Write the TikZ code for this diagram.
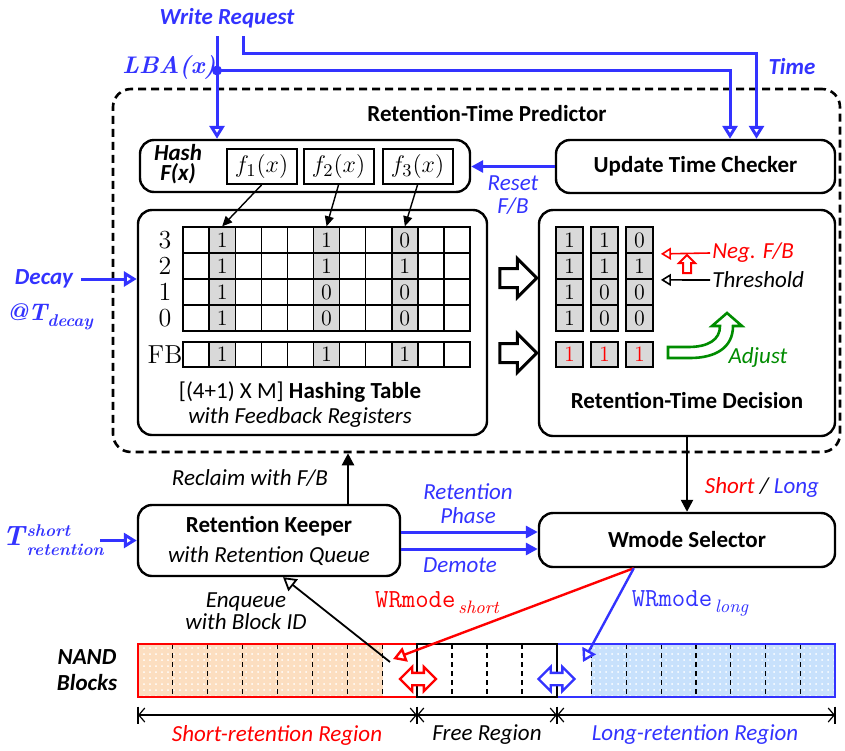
\documentclass[tikz,border=0pt]{standalone}
\usepackage{fontspec}
\setsansfont{Carlito}
\usepackage{amsmath}
\usepackage{tikz}
\usetikzlibrary{arrows.meta, shapes.arrows, patterns, positioning}
\definecolor{wrblue}{RGB}{51,51,255}
\definecolor{wrred}{RGB}{255,0,0}
\definecolor{wrgreen}{RGB}{0,140,0}
\definecolor{wrgray}{RGB}{217,217,217}
\definecolor{wrpeach}{RGB}{252,222,192}
\definecolor{wrsky}{RGB}{200,225,252}
\newcommand{\figfont}{\fontsize{11.5}{13}\selectfont}
\newcommand{\serifbi}{\rmfamily\bfseries\itshape}
\tikzset{
  %% ---- boxes ----
  box/.style    = {rectangle, rounded corners=7pt, draw=black, line width=1.2pt,
                   fill=white, align=center, inner sep=0pt,
                   font=\sffamily\bfseries\figfont},
  predictor/.style = {rectangle, rounded corners=9pt, draw=black, line width=1.3pt,
                   dash pattern=on 4pt off 2.5pt, inner sep=0pt},
  fbox/.style   = {rectangle, draw=black, line width=1pt, inner sep=0pt,
                   minimum width=35pt, minimum height=17.5pt,
                   font=\fontsize{12.5}{13}\selectfont},
  cell/.style   = {rectangle, draw=black, line width=0.7pt, inner sep=0pt,
                   minimum width=13.05pt, minimum height=13pt,
                   font=\rmfamily\fontsize{11}{11}\selectfont},
  dcell/.style  = {cell, fill=wrgray, line width=0.9pt, minimum width=13.5pt},
  rowlbl/.style = {inner sep=0pt, font=\rmfamily\fontsize{13}{13}\selectfont},
  %% ---- labels ----
  lbl/.style    = {align=center, inner sep=1pt, font=\sffamily\itshape\figfont},
  bluelbl/.style= {lbl, text=wrblue},
  boldlbl/.style= {align=center, inner sep=1pt, font=\sffamily\bfseries\itshape\figfont},
  mathlbl/.style= {inner sep=1pt, text=wrblue, font=\serifbi\fontsize{12}{12}\selectfont},
  title/.style  = {align=center, inner sep=1pt, font=\sffamily\bfseries\figfont},
  monolbl/.style= {inner sep=1pt, font=\ttfamily\fontsize{13}{13}\selectfont},
  %% ---- arrows ----
  openarrow/.style  = {-{Triangle[open, length=6.5pt, width=7.5pt]},
                       line width=1.5pt, draw=wrblue},
  solidarrow/.style = {-{Triangle[length=6pt, width=6pt]}, line width=1.5pt,
                       draw=wrblue},
  thinarrow/.style  = {-{Triangle[length=5pt, width=4.5pt]}, line width=0.7pt},
  thinopen/.style   = {-{Triangle[open, length=5pt, width=6pt]}, line width=0.8pt},
  blockarrow/.style = {single arrow, draw=black, line width=1.5pt, fill=white,
                       inner sep=4pt, single arrow head extend=5pt,
                       minimum height=18.5pt},
  swaparrow/.style  = {double arrow, draw=#1, line width=1.2pt, fill=white,
                       inner sep=2.5pt, double arrow head extend=3pt,
                       minimum height=18pt},
  dimline/.style    = {{Straight Barb[length=3pt, width=7pt]}-{Straight Barb[length=3pt, width=7pt]},
                       line width=0.6pt},
  divider/.style    = {dash pattern=on 2.5pt off 2pt, line width=0.6pt},
}

\begin{document}
\begin{tikzpicture}[x=0.5pt, y=-0.5pt]
  \useasboundingbox (0,0) rectangle (845,750);

  %% predictor
  \node[predictor, minimum width=363.5pt, minimum height=181.5pt] (pred) at (476.5,270.5) {};
  \node[title] (predtitle) at (487,113) {Retention-Time Predictor};

  \node[box, minimum width=165pt, minimum height=26pt] (hash) at (305,166) {};
  \node[boldlbl, font=\sffamily\bfseries\itshape\fontsize{11.5}{10}\selectfont] (hashlbl) at (178,164) {Hash\\F(x)};
  \node[fbox] (f1) at (261.5,166.5) {$f_1(x)$};
  \node[fbox] (f2) at (338.5,166.5) {$f_2(x)$};
  \node[fbox] (f3) at (417.5,166.5) {$f_3(x)$};

  \node[box, minimum width=139.5pt, minimum height=26.5pt] (utc) at (695.5,166.5) {Update Time Checker};

  \node[box, minimum width=174.5pt, minimum height=112.5pt] (table) at (312.5,322.5) {};
  \node[box, minimum width=148pt, minimum height=113pt] (decide) at (687,323) {};

  %% hashing table
  \foreach \r [count=\i from 0] in {3,2,1,0} {
    \node[rowlbl] (rl\r) at (165,240+26*\i) {\r};
    \foreach \c in {0,...,10}
      \node[cell] (h\r-\c) at (196.05+26.1*\c,240+26*\i) {};
  }
  \node[rowlbl] (rlfb) at (165,354.5) {FB};
  \foreach \c in {0,...,10}
    \node[cell, minimum height=12.5pt] (fb-\c) at (196.05+26.1*\c,354.5) {};
  \foreach \c/\a/\b/\d/\e in {1/1/1/1/1, 5/1/1/0/0, 8/0/1/0/0} {
    \node[cell, fill=wrgray] (hv3-\c) at (h3-\c) {\a};
    \node[cell, fill=wrgray] (hv2-\c) at (h2-\c) {\b};
    \node[cell, fill=wrgray] (hv1-\c) at (h1-\c) {\d};
    \node[cell, fill=wrgray] (hv0-\c) at (h0-\c) {\e};
    \node[cell, fill=wrgray, minimum height=12.5pt] (fbv-\c) at (fb-\c) {1};
  }
  \node[inner sep=1pt, font=\sffamily\figfont] (tabname) at (300,392) {[(4+1) X M] \textbf{Hashing Table}};
  \node[lbl] (tabsub) at (300,417) {with Feedback Registers};

  \draw[thinarrow] (f1.south) -- (h3-1.north);
  \draw[thinarrow] (f2.south) -- (h3-5.north);
  \draw[thinarrow] (f3.south) -- (h3-8.north);

  \node[blockarrow] (ba1) at (513.5,278) {};
  \node[blockarrow] (ba2) at (513.5,353) {};

  %% decision
  \foreach \x/\a/\b/\d/\e [count=\k] in {569.5/1/1/1/1, 604.5/1/1/0/0, 639.5/0/1/0/0} {
    \node[dcell] (d\k-3) at (\x,240) {\a};
    \node[dcell] (d\k-2) at (\x,266) {\b};
    \node[dcell] (d\k-1) at (\x,292) {\d};
    \node[dcell] (d\k-0) at (\x,318) {\e};
    \node[dcell, minimum height=12.5pt, text=wrred] (dfb\k) at (\x,354.5) {1};
  }
  \node[lbl, text=wrred, anchor=west] (negfb) at (710,253) {Neg. F/B};
  \node[lbl, anchor=west] (thresh) at (710,280) {Threshold};
  \draw[thinopen, draw=wrred] (negfb.west) -- ([xshift=3.5pt]d3-3.south east);
  \draw[thinopen] (thresh.west) -- ([xshift=3.5pt]d3-2.south east);
  \node[single arrow, draw=wrred, line width=1pt, fill=white, inner sep=1.5pt,
        single arrow head extend=2pt, minimum height=9pt, rotate=90] (up) at (687,266) {};
  \draw[draw=wrgreen, line width=1.3pt, fill=white]
    (668,347) -- (688,347) .. controls (708,347) and (720,340) .. (720,326)
    -- (712,326) -- (727,313) -- (742,326) -- (733,326)
    .. controls (733,348) and (715,358) .. (690,358) -- (668,358) -- cycle;
  \node[lbl, text=wrgreen] (adjust) at (758,357) {Adjust};
  \node[title] (dectitle) at (687,400) {Retention-Time Decision};

  %% inputs
  \node[boldlbl, text=wrblue] (wreq) at (227,18) {Write Request};
  \node[mathlbl] (lba) at (169,67) {LBA(x)};
  \node[boldlbl, text=wrblue] (time) at (792,67) {Time};
  \coordinate (wrA) at (217,36);
  \coordinate (wrB) at (243,36);
  \coordinate (lbadot) at (217,70.5);
  \coordinate (tcorner) at (756.5,53);
  \draw[openarrow] (wrA) -- (wrA |- hash.north);
  \fill[wrblue] (lbadot) circle (2.5pt);
  \draw[openarrow] (lbadot) -| ([xshift=17.25pt]utc.north);
  \draw[openarrow] (wrB) |- (tcorner) -- ([xshift=30.5pt]utc.north);

  \draw[solidarrow] (utc.west) -- (utc.west -| hash.east);
  \node[bluelbl, font=\sffamily\itshape\fontsize{11.5}{11.5}\selectfont] (reset) at (513,195) {Reset\\F/B};

  \node[boldlbl, text=wrblue] (decay) at (44,279) {Decay};
  \node[mathlbl] (tdecay) at (50,317) {@T\raisebox{-3pt}{\fontsize{8.5}{8.5}\selectfont decay}};
  \draw[openarrow] ([xshift=3pt]decay.east) -- (decay.east -| table.west);

  %% lower part
  \node[box, minimum width=131pt, minimum height=35.5pt, font=\sffamily\figfont\linespread{1.15}\selectfont] (keeper) at (269,540.5)
    {\textbf{Retention Keeper}\\\textit{with Retention Queue}};
  \node[box, minimum width=148pt, minimum height=27pt] (wmode) at (687,540) {Wmode Selector};

  \draw[-{Triangle[length=6pt, width=6pt]}, line width=1.2pt] (decide.south) -- (wmode.north);
  \node[lbl] (shortlong) at (762,487) {\textcolor{wrred}{Short} / \textcolor{wrblue}{Long}};

  \draw[-{Triangle[length=6pt, width=6pt]}, line width=1.2pt] ([xshift=39.5pt]keeper.north) -- ([xshift=39.5pt]keeper.north |- pred.south);
  \node[lbl] (reclaim) at (250,478) {Reclaim with F/B};

  \node[mathlbl, font=\serifbi\fontsize{14}{14}\selectfont] (tret) at (53,542)
    {T\kern1pt\raisebox{-0.5pt}{\fontsize{8.5}{9.5}\selectfont\begin{tabular}{@{}l@{}}short\\retention\end{tabular}}};
  \draw[openarrow] (100,540.5) coordinate (tretend) -- (keeper.west);

  \draw[solidarrow] ([yshift=4.25pt]keeper.east) -- ([yshift=4.25pt]keeper.east -| wmode.west);
  \draw[solidarrow] ([yshift=-4.25pt]keeper.east) -- ([yshift=-4.25pt]keeper.east -| wmode.west);
  \node[bluelbl, font=\sffamily\itshape\fontsize{11.5}{12}\selectfont] (rphase) at (468,504) {Retention\\Phase};
  \node[bluelbl] (demote) at (460,565) {Demote};

  %% NAND blocks
  \coordinate (sL) at (138,644);
  \coordinate (sR) at (417,697);
  \coordinate (fR) at (557,644);
  \coordinate (lR) at (835,697);
  \fill[wrpeach] (138,644) rectangle (383,697);
  \fill[pattern=dots, pattern color=white] (138,644) rectangle (383,697);
  \fill[wrsky] (591,644) rectangle (835,697);
  \fill[pattern=dots, pattern color=white] (591,644) rectangle (835,697);
  \foreach \k in {1,...,7} {
    \draw[divider] (138+34.875*\k,644) -- (138+34.875*\k,697);
    \draw[divider] (557+34.75*\k,644) -- (557+34.75*\k,697);
  }
  \foreach \k in {1,2,3}
    \draw[divider] (417+35*\k,644) -- (417+35*\k,697);
  \draw[draw=wrred, line width=1.3pt] (sL) rectangle (sR);
  \draw[draw=wrblue, line width=1.3pt] (sR |- fR) rectangle (lR);
  \draw[draw=black, line width=1.3pt] (sR |- fR) rectangle (fR |- sR);

  \node[swaparrow=wrred] (swapS) at (418,679) {};
  \node[swaparrow=wrblue] (swapL) at (556.5,679) {};

  \node[boldlbl] (nand) at (87,670) {NAND\\Blocks};

  \coordinate (shortin) at (393,659);
  \coordinate (longin) at (583,662);
  \coordinate (enq) at (390,662);
  \draw[-{Triangle[open, length=6.5pt, width=7.5pt]}, line width=1.2pt, draw=wrred] ([xshift=48pt]wmode.south west) -- (shortin);
  \draw[-{Triangle[open, length=6.5pt, width=7.5pt]}, line width=1.2pt, draw=wrblue] ([xshift=48pt]wmode.south west) -- (longin);
  \draw[-{Triangle[open, length=6.5pt, width=7.5pt]}, line width=0.9pt] (enq) -- ([xshift=7pt]keeper.south);
  \node[monolbl, text=wrred] (wrshort) at (437,603) {WRmode\raisebox{-3pt}{\rmfamily\itshape\fontsize{9}{9}\selectfont\,short}};
  \node[monolbl, text=wrblue] (wrlong) at (690,603) {WRmode\raisebox{-3pt}{\rmfamily\itshape\fontsize{9}{9}\selectfont\,long}};
  \node[lbl, font=\sffamily\itshape\fontsize{11.5}{11}\selectfont] (enqlbl) at (246,611) {Enqueue\\with Block ID};

  %% regions
  \coordinate (d0) at (138,715);
  \coordinate (d1) at (417,715);
  \coordinate (d2) at (557,715);
  \coordinate (d3) at (835,715);
  \foreach \p in {d0,d1,d2,d3}
    \draw[line width=0.6pt] ([yshift=4.25pt]\p) -- ([yshift=-4.25pt]\p);
  \draw[dimline] (d0) -- (d1);
  \draw[dimline] (d1) -- (d2);
  \draw[dimline] (d2) -- (d3);
  \node[lbl, text=wrred] (shortreg) at (277,735) {Short-retention Region};
  \node[lbl] (freereg) at (487,735) {Free Region};
  \node[lbl, text=wrblue] (longreg) at (695,735) {Long-retention Region};

\end{tikzpicture}
\end{document}
